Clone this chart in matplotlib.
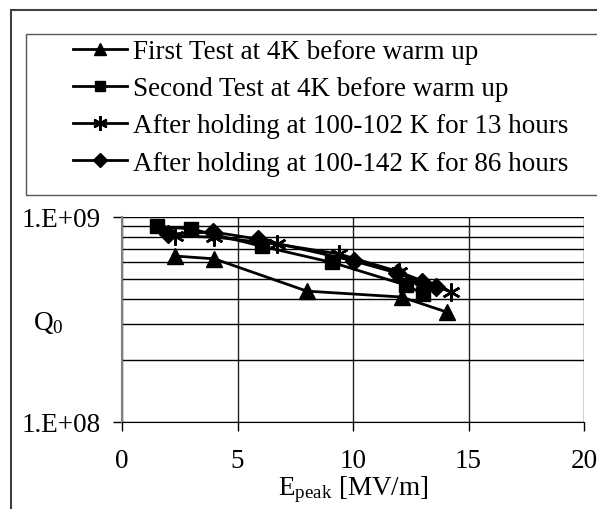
import numpy as np
import matplotlib.pyplot as plt
from matplotlib.patches import Rectangle
from matplotlib.ticker import FixedLocator, LogLocator, NullFormatter

plt.rcParams['font.family'] = ['Liberation Serif', 'DejaVu Serif']
plt.rcParams['mathtext.fontset'] = 'custom'
plt.rcParams['mathtext.rm'] = 'Liberation Serif'
plt.rcParams['mathtext.it'] = 'Liberation Serif'

# data
first_x = [2.3, 4.0, 8.0, 12.1, 14.05]
first_q = [6.45e8, 6.25e8, 4.35e8, 4.07e8, 3.44e8]

second_x = [1.5, 3.0, 6.05, 9.1, 12.3, 13.05]
second_q = [9.0e8, 8.75e8, 7.2e8, 6.0e8, 4.65e8, 4.2e8]

hold13_x = [2.3, 4.0, 6.7, 9.4, 12.0, 14.25]
hold13_q = [8.08e8, 7.98e8, 7.38e8, 6.6e8, 5.4e8, 4.3e8]

hold86_x = [2.0, 3.95, 5.9, 10.05, 11.9, 13.0, 13.6]
hold86_q = [8.25e8, 8.45e8, 7.8e8, 6.1e8, 5.33e8, 4.82e8, 4.56e8]

labels = ["First Test at 4K before warm up",
          "Second Test at 4K before warm up",
          "After holding at 100-102 K for 13 hours",
          "After holding at 100-142 K for 86 hours"]

x_ticks = [0, 5, 10, 15, 20]

W, H = 597, 510
fs = 19.5
fig = plt.figure(figsize=(W / 100, H / 100), dpi=100)
ax = fig.add_axes([122 / W, 1 - 423 / H, (584 - 122) / W, (423 - 218) / H])

lw = 2.0
h1, = ax.plot(first_x, first_q, color='black', lw=lw, marker='^', ms=11)
h2, = ax.plot(second_x, second_q, color='black', lw=lw, marker='s', ms=9.5)
h3, = ax.plot(hold13_x, hold13_q, color='black', lw=lw, marker=(6, 2, 0), ms=13, mew=1.8)
h4, = ax.plot(hold86_x, hold86_q, color='black', lw=lw, marker='D', ms=9)

ax.set_yscale('log')
ax.set_ylim(1e8, 1e9)
ax.set_xlim(0, 20)
ax.xaxis.set_major_locator(FixedLocator(x_ticks))
ax.yaxis.set_major_locator(FixedLocator([1e8, 1e9]))
ax.yaxis.set_major_formatter(lambda v, p: "1.E+%02d" % round(np.log10(v)))
ax.yaxis.set_minor_locator(LogLocator(base=10, subs=np.arange(2, 10)))
ax.yaxis.set_minor_formatter(NullFormatter())

ax.grid(True, which='major', axis='x', color='#222222', lw=1)
ax.grid(True, which='both', axis='y', color='black', lw=1)
ax.set_axisbelow(True)

ax.tick_params(axis='both', which='major', direction='out', length=6.5, width=1,
               labelsize=fs, color='black')
ax.tick_params(axis='x', which='major', pad=12)
ax.tick_params(axis='y', which='major', pad=9)
ax.tick_params(axis='y', which='minor', direction='in', length=0)

for s in ['top', 'right']:
    ax.spines[s].set_visible(False)
ax.spines['left'].set_color('#808080')
ax.spines['left'].set_linewidth(1.5)
ax.spines['bottom'].set_color('black')

fig.text(353 / W, 1 - 490 / H, r"E$_{\mathrm{peak}}$ [MV/m]", fontsize=fs,
         ha='center', va='center')
fig.text(48 / W, 1 - 323 / H, r"Q$_{\mathrm{0}}$", fontsize=fs,
         ha='center', va='center')

# outer frame and legend box
fig.patches.append(Rectangle((11 / W, -0.1), 1.2, 1 - 11 / H + 0.1, transform=fig.transFigure,
                             fill=False, edgecolor='#404040', lw=1.5))
fig.patches.append(Rectangle((26 / W, 1 - 196 / H), 1.2, (196 - 35) / H,
                             transform=fig.transFigure, fill=False,
                             edgecolor='#555555', lw=1.0))

fig.legend([h1, h2, h3, h4], labels, loc='upper left',
           bbox_to_anchor=(73 / W, 1 - 40 / H), frameon=False, fontsize=fs,
           handlelength=2.0, handletextpad=0.2, labelspacing=0.45,
           borderaxespad=0, borderpad=0, markerscale=0.8)

fig.savefig('out.png', dpi=100)
